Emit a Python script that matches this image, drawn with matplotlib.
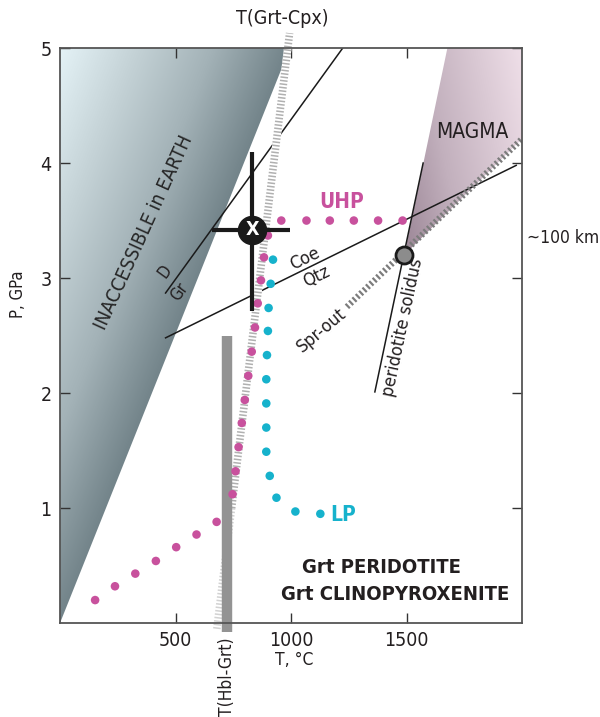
import numpy as np
import matplotlib.pyplot as plt
from matplotlib import font_manager
from matplotlib.patches import Polygon
from matplotlib.colors import LinearSegmentedColormap

# P-T path points (T in deg C, P in GPa)
uhp_T = [152, 238, 326, 415, 503, 591, 678, 747, 760, 773, 787, 800, 815,
         830, 844, 856, 870, 883, 900, 958, 1067, 1168, 1272, 1377, 1483]
uhp_P = [0.20, 0.32, 0.43, 0.54, 0.66, 0.77, 0.88, 1.12, 1.32, 1.53, 1.74, 1.94, 2.15,
         2.36, 2.57, 2.78, 2.98, 3.18, 3.37, 3.50, 3.50, 3.50, 3.50, 3.50, 3.50]
lp_T = [922, 912, 903, 900, 896, 893, 893, 893, 893, 908, 937, 1019, 1127]
lp_P = [3.16, 2.95, 2.74, 2.54, 2.33, 2.12, 1.91, 1.70, 1.49, 1.28, 1.09, 0.97, 0.95]

# peak estimate with its T and P ranges
peak_T, peak_P = 831, 3.42
peak_T_range = [660, 994]
peak_P_range = [2.71, 4.10]

# reaction lines / boundaries as (T, P) end points
dgr_T, dgr_P = [457, 1224], [2.87, 5.0]
coeqtz_T, coeqtz_P = [457, 1975], [2.48, 3.98]
solidus_T, solidus_P = [1363, 1572], [2.01, 4.0]
sprout_T, sprout_P = [1242, 2000], [2.75, 4.21]
grtcpx_T, grtcpx_P = [679, 994], [-0.05, 5.13]
hblgrt_T, hblgrt_P = [721, 721], [-0.08, 2.5]
solidus_point = (1490, 3.2)
inaccessible_top_T = 995
magma_top_T = 1677


def pick_narrow_font():
    """Look for an installed condensed sans face, else fall back to Liberation Sans."""
    prefs = ['Liberation Sans Narrow', 'DejaVu Sans', 'Noto Sans', 'Open Sans',
             'Roboto', 'Liberation Sans']
    found = []
    for f in font_manager.fontManager.ttflist:
        n, st = f.name, f.stretch
        narrow = ('Narrow' in n or 'Condensed' in n or 'Cond' in n
                  or st in ('condensed', 'semi-condensed', 'extra-condensed'))
        if narrow and 'Sans' in n and 'Mono' not in n and 'CJK' not in n:
            rank = next((i for i, p in enumerate(prefs) if n.startswith(p)), 99)
            found.append((rank, n, st))
    if found:
        found.sort()
        return found[0][1], found[0][2]
    return 'Liberation Sans', 'normal'


FONT, STRETCH = pick_narrow_font()
plt.rcParams['font.family'] = [FONT, 'DejaVu Sans']
plt.rcParams['font.stretch'] = STRETCH
plt.rcParams['text.color'] = '#231f20'

TXT = '#231f20'
MAG = '#c8519d'
CYAN = '#16b2cc'

fig = plt.figure(figsize=(6, 7.17), dpi=100)
ax = fig.add_axes([0.1, 0.131, 0.77, 0.802])
ax.set_xlim(0, 2000)
ax.set_ylim(0, 5)

# px per data unit, used to shade perpendicular to the region edges
sx, sy = 0.2306, 115.0

# inaccessible region, shaded by distance from its right edge
gT, gP = np.meshgrid(np.linspace(0, 1000, 300), np.linspace(0, 5, 300))
ex, ey = inaccessible_top_T * sx, 5 * sy
d = (ey * gT * sx - ex * gP * sy) / np.hypot(ex, ey)
t = np.clip(-d / 213.0, 0, 1)
cmap_in = LinearSegmentedColormap.from_list(
    'inacc', ['#73848a', '#a3b2b7', '#c4d2d6', '#e4f2f6'])
poly_in = Polygon([(0, 0), (inaccessible_top_T, 5), (0, 5)], closed=True,
                  facecolor='none', edgecolor='none')
ax.add_patch(poly_in)
im = ax.imshow(t, extent=[0, 1000, 0, 5], origin='lower', aspect='auto',
               cmap=cmap_in, vmin=0, vmax=1, zorder=1)
im.set_clip_path(poly_in)

# magma field, darkest at the solidus point
mT, mP = np.meshgrid(np.linspace(1450, 2000, 200), np.linspace(3, 5, 100))
tm = np.clip(0.7 * (mT - 1490) / 510.0 + 0.25 * (mP - 3.2) / 1.8, 0, 1)
cmap_mg = LinearSegmentedColormap.from_list(
    'magma_f', [(0, '#9c8797'), (0.35, '#c2b0bd'), (1, '#f3e3ec')])
poly_mg = Polygon([solidus_point, (magma_top_T, 5), (2000, 5), (2000, sprout_P[1])],
                  closed=True, facecolor='none', edgecolor='none')
ax.add_patch(poly_mg)
im2 = ax.imshow(tm, extent=[1450, 2000, 3, 5], origin='lower', aspect='auto',
                cmap=cmap_mg, vmin=0, vmax=1, zorder=1)
im2.set_clip_path(poly_mg)

# thin reaction lines
for xs, ys in [(dgr_T, dgr_P), (coeqtz_T, coeqtz_P), (solidus_T, solidus_P)]:
    ax.plot(xs, ys, color='#1a1a1a', lw=1.1, zorder=2)

# T(Grt-Cpx) hatched band
gx = np.array(grtcpx_T)
gy = np.array(grtcpx_P)
ax.plot(gx, gy, color='white', lw=5.5, solid_capstyle='butt', zorder=3, clip_on=False)
split = 1.0
tsplit = gx[0] + (gx[1] - gx[0]) * (split - gy[0]) / (gy[1] - gy[0])
ax.plot([gx[0], tsplit], [gy[0], split], color='#d2d2d2', lw=5.5,
        dashes=(0.2, 0.25), zorder=3, clip_on=False)
ax.plot([tsplit, gx[1]], [split, gy[1]], color='#b0b0b0', lw=5.5,
        dashes=(0.2, 0.25), zorder=3, clip_on=False)

# Spr-out / dry solidus hatched line
ax.plot(sprout_T, sprout_P, color='#7c7c7c', lw=4.5, dashes=(0.35, 0.4), zorder=3)

# T(Hbl-Grt) bar
ax.plot(hblgrt_T, hblgrt_P, color='#939393', lw=7.5, solid_capstyle='butt',
        zorder=4, clip_on=False)

# P-T paths
ax.scatter(uhp_T, uhp_P, s=38, color=MAG, edgecolors='none', zorder=5)
ax.scatter(lp_T, lp_P, s=38, color=CYAN, edgecolors='none', zorder=5)

# peak estimate cross
ax.plot(peak_T_range, [peak_P, peak_P], color='#1a1a1a', lw=3, solid_capstyle='butt', zorder=6)
ax.plot([peak_T, peak_T], peak_P_range, color='#1a1a1a', lw=3, solid_capstyle='butt', zorder=6)
ax.scatter([peak_T], [peak_P], s=410, color='#1a1a1a', zorder=7)
ax.text(peak_T, peak_P, 'X', color='white', fontsize=14, fontweight='bold',
        ha='center', va='center', zorder=8)

ax.scatter([solidus_point[0]], [solidus_point[1]], s=150, color='#8c8c8c',
           edgecolors='#1a1a1a', linewidths=2, zorder=7)

# labels
ax.text(362, 3.40, 'INACCESSIBLE in EARTH', rotation=65.5, fontsize=14,
        ha='center', va='center', color='#262626', rotation_mode='anchor', zorder=4)
ax.text(1784, 4.27, 'MAGMA', fontsize=15, ha='center', va='center', zorder=4)
ax.text(1220, 3.66, 'UHP', fontsize=15, fontweight='bold', color=MAG,
        ha='center', va='center', zorder=4)
ax.text(1226, 0.94, 'LP', fontsize=15, fontweight='bold', color=CYAN,
        ha='center', va='center', zorder=4)
ax.text(1391, 0.48, 'Grt PERIDOTITE', fontsize=14.5, fontweight='bold',
        ha='center', va='center', zorder=4)
ax.text(1450, 0.25, 'Grt CLINOPYROXENITE', fontsize=14.5, fontweight='bold',
        ha='center', va='center', zorder=4)
ax.text(453, 3.06, 'D', rotation=54, fontsize=12, ha='center', va='center',
        rotation_mode='anchor', zorder=4)
ax.text(517, 2.88, 'Gr', rotation=54, fontsize=12, ha='center', va='center',
        rotation_mode='anchor', zorder=4)
ax.text(1059, 3.17, 'Coe', rotation=26, fontsize=13, ha='center', va='center',
        rotation_mode='anchor', zorder=4)
ax.text(1111, 3.01, 'Qtz', rotation=26, fontsize=13, ha='center', va='center',
        rotation_mode='anchor', zorder=4)
ax.text(1132, 2.55, 'Spr-out', rotation=40, fontsize=13, ha='center', va='center',
        rotation_mode='anchor', zorder=4)
ax.text(1483, 2.57, 'peridotite solidus', rotation=78, fontsize=13, ha='center',
        va='center', rotation_mode='anchor', zorder=4)
ax.text(2020, 3.35, '~100 km', fontsize=12.5, ha='left', va='center')
ax.text(964, 5.26, 'T(Grt-Cpx)', fontsize=14, ha='center', va='center')
ax.text(721, -0.125, 'T(Hbl-Grt)', fontsize=12.5, ha='center', va='top', rotation=90)

# axes styling
ax.set_xticks([500, 1000, 1500])
ax.set_yticks([1, 2, 3, 4, 5])
ax.tick_params(direction='in', length=7, width=1, colors='#333333', labelsize=14,
               top=True, right=True, pad=6, labelcolor=TXT)
for s in ax.spines.values():
    s.set_color('#555555')
    s.set_linewidth(1.3)
    s.set_zorder(9)

fig.text(294 / 600, 1 - 660 / 717, 'T, \u00b0C', fontsize=12.5, ha='center', va='center')
fig.text(18 / 600, 1 - 294 / 717, 'P, GPa', fontsize=12, ha='center', va='center',
         rotation=90)

fig.savefig('out.png', dpi=100)
